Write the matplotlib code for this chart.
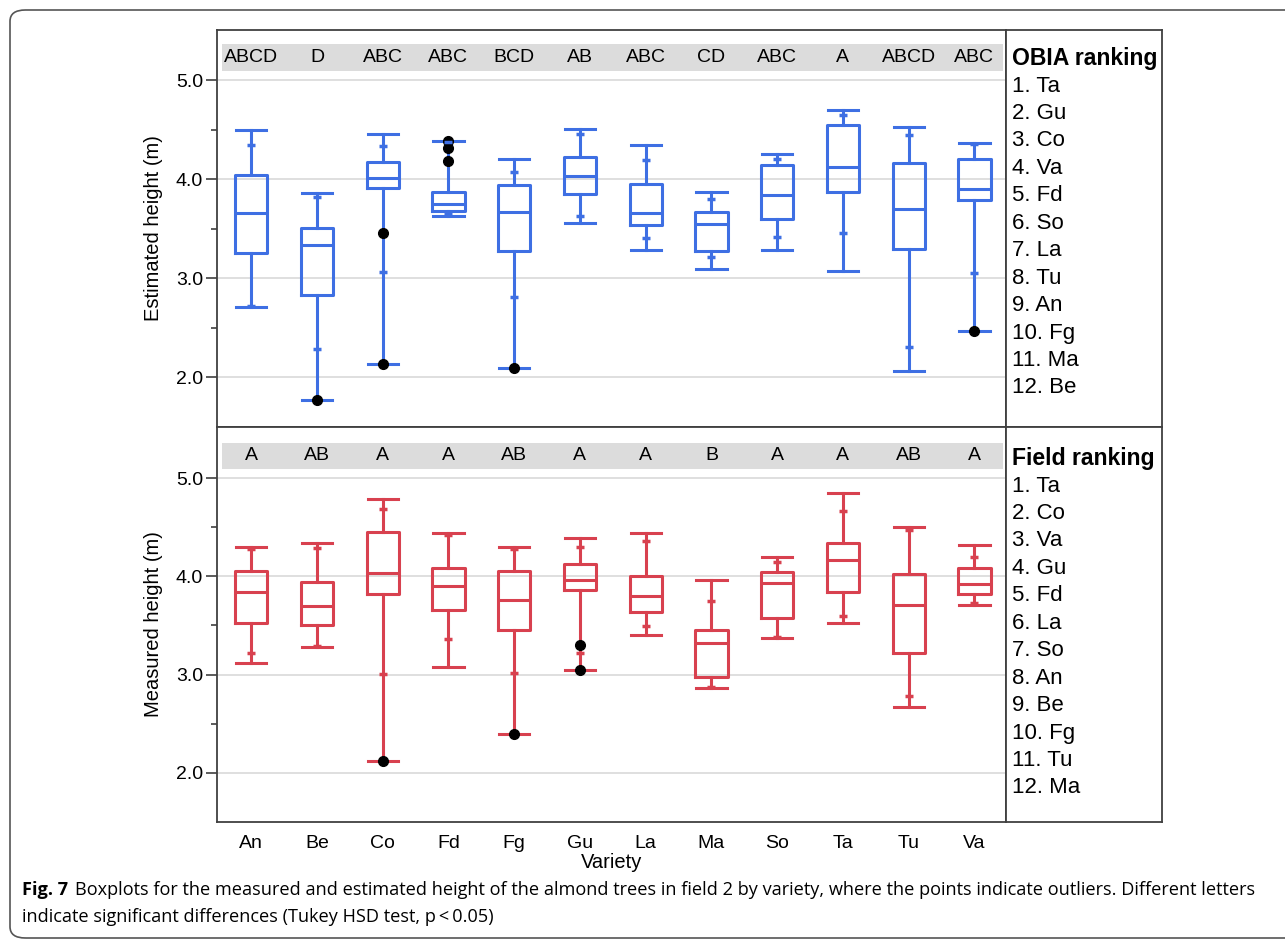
import matplotlib
matplotlib.use("Agg")
import matplotlib.pyplot as plt
from matplotlib.patches import FancyBboxPatch

# varieties on the x axis
varieties = ['An', 'Be', 'Co', 'Fd', 'Fg', 'Gu', 'La', 'Ma', 'So', 'Ta', 'Tu', 'Va']

# OBIA estimated height (m): whisker ends, 10/90 % ticks, quartiles, median
est_hi = [4.50, 3.86, 4.46, 4.39, 4.20, 4.51, 4.34, 3.87, 4.25, 4.70, 4.53, 4.37]
est_p90 = [4.34, 3.82, 4.33, 4.38, 4.07, 4.46, 4.19, 3.80, 4.20, 4.65, 4.45, 4.35]
est_q3 = [4.04, 3.51, 4.17, 3.87, 3.94, 4.22, 3.95, 3.67, 4.14, 4.55, 4.16, 4.20]
est_med = [3.66, 3.34, 4.01, 3.75, 3.67, 4.03, 3.66, 3.55, 3.84, 4.12, 3.70, 3.90]
est_q1 = [3.26, 2.83, 3.91, 3.68, 3.28, 3.85, 3.54, 3.28, 3.60, 3.87, 3.30, 3.79]
est_p10 = [2.72, 2.29, 3.06, 3.65, 2.81, 3.63, 3.41, 3.21, 3.42, 3.46, 2.31, 3.05]
est_lo = [2.71, 1.77, 2.14, 3.63, 2.10, 3.56, 3.29, 3.09, 3.29, 3.07, 2.06, 2.47]
est_out = [[], [1.77], [3.46, 2.14], [4.39, 4.31, 4.18], [2.10], [], [], [], [], [], [], [2.47]]
obia_letters = ['ABCD', 'D', 'ABC', 'ABC', 'BCD', 'AB', 'ABC', 'CD', 'ABC', 'A', 'ABCD', 'ABC']
obia_rank = ['Ta', 'Gu', 'Co', 'Va', 'Fd', 'So', 'La', 'Tu', 'An', 'Fg', 'Ma', 'Be']

# field measured height (m)
fld_hi = [4.30, 4.34, 4.79, 4.44, 4.30, 4.39, 4.44, 3.96, 4.20, 4.85, 4.50, 4.32]
fld_p90 = [4.28, 4.29, 4.69, 4.42, 4.28, 4.30, 4.36, 3.75, 4.15, 4.67, 4.47, 4.20]
fld_q3 = [4.05, 3.94, 4.45, 4.08, 4.05, 4.13, 4.00, 3.45, 4.04, 4.34, 4.02, 4.09]
fld_med = [3.84, 3.70, 4.03, 3.90, 3.76, 3.96, 3.80, 3.32, 3.93, 4.17, 3.71, 3.92]
fld_q1 = [3.53, 3.50, 3.82, 3.66, 3.45, 3.86, 3.64, 2.98, 3.58, 3.84, 3.22, 3.82]
fld_p10 = [3.22, 3.29, 3.01, 3.36, 3.02, 3.22, 3.49, 2.87, 3.38, 3.60, 2.78, 3.73]
fld_lo = [3.12, 3.28, 2.12, 3.08, 2.40, 3.05, 3.40, 2.86, 3.37, 3.53, 2.67, 3.71]
fld_out = [[], [], [2.12], [], [2.40], [3.30, 3.05], [], [], [], [], [], []]
field_letters = ['A', 'AB', 'A', 'A', 'AB', 'A', 'A', 'B', 'A', 'A', 'AB', 'A']
field_rank = ['Ta', 'Co', 'Va', 'Gu', 'Fd', 'La', 'So', 'An', 'Be', 'Fg', 'Tu', 'Ma']

W, H = 1285, 940
plt.rcParams['font.family'] = ['Liberation Sans', 'DejaVu Sans']
fig = plt.figure(figsize=(W / 100, H / 100), dpi=100)


def box(x0, y0, x1, y1):
    # pixel box (top-left origin) -> figure fraction rect
    return [x0 / W, 1 - y1 / H, (x1 - x0) / W, (y1 - y0) / H]


def draw_panel(ax, color, hi, p90, q3, med, q1, p10, lo, out, letters, ylim, ylabel):
    pos = list(range(len(varieties)))
    stats = []
    for i in pos:
        stats.append(dict(med=med[i], q1=q1[i], q3=q3[i], whislo=lo[i], whishi=hi[i], fliers=out[i]))
    lp = dict(color=color, linewidth=2.2)
    ax.bxp(stats, positions=pos, widths=0.49, capwidths=0.46,
           boxprops=lp, whiskerprops=lp, capprops=lp, medianprops=lp,
           flierprops=dict(marker='o', markerfacecolor='black', markeredgecolor='black', markersize=7),
           manage_ticks=False, zorder=3)
    # little 10% / 90% quantile marks on the whiskers
    ax.hlines(p90, [p - 0.06 for p in pos], [p + 0.06 for p in pos], color=color, lw=2.5, zorder=3)
    ax.hlines(p10, [p - 0.06 for p in pos], [p + 0.06 for p in pos], color=color, lw=2.5, zorder=3)
    ax.set_xlim(-0.52, 11.48)
    ax.set_ylim(*ylim)
    # grey band with the Tukey letters
    ax.axhspan(5.09, 5.36, xmin=0.006, xmax=0.996, color='#dcdcdc', lw=0, zorder=1)
    for i in pos:
        ax.text(i, 5.225, letters[i], ha='center', va='center', fontsize=14, zorder=4)
    ax.set_yticks([2, 3, 4, 5])
    ax.set_yticklabels(['2.0', '3.0', '4.0', '5.0'], fontsize=14)
    ax.set_yticks([2.5, 3.5, 4.5], minor=True)
    ax.tick_params(axis='y', which='major', length=8, width=1.2, color='#404040', pad=2)
    ax.tick_params(axis='y', which='minor', length=4, width=1.2, color='#404040')
    ax.yaxis.grid(True, which='major', color='#d9d9d9', lw=1.2, zorder=0)
    ax.set_axisbelow(True)
    ax.set_ylabel(ylabel, fontsize=14.5, labelpad=9)
    for s in ax.spines.values():
        s.set_color('#404040')
        s.set_linewidth(1.3)


ax1 = fig.add_axes(box(217, 30, 1006, 427))
draw_panel(ax1, '#3e6fe3', est_hi, est_p90, est_q3, est_med, est_q1, est_p10, est_lo, est_out,
           obia_letters, (1.5, 5.505), 'Estimated height (m)')
ax1.set_xticks([])

ax2 = fig.add_axes(box(217, 427, 1006, 822))
draw_panel(ax2, '#d8414f', fld_hi, fld_p90, fld_q3, fld_med, fld_q1, fld_p10, fld_lo, fld_out,
           field_letters, (1.5, 5.52), 'Measured height (m)')
ax2.set_xticks(range(len(varieties)))
ax2.set_xticklabels(varieties, fontsize=14)
ax2.tick_params(axis='x', length=0, pad=9)
ax2.set_xlabel('Variety', fontsize=14.5, labelpad=1)

# ranking boxes on the right
for (y0, y1, title, rank, t_y, l_y) in [(30, 427, 'OBIA ranking', obia_rank, 59, 86),
                                        (427, 822, 'Field ranking', field_rank, 459, 486)]:
    axr = fig.add_axes(box(1006, y0, 1162, y1))
    axr.set_xticks([])
    axr.set_yticks([])
    for s in axr.spines.values():
        s.set_color('#404040')
        s.set_linewidth(1.3)
    fig.text(1012 / W, 1 - t_y / H, title, fontsize=16.6, fontweight='bold', va='center', ha='left')
    for k, v in enumerate(rank):
        fig.text(1012 / W, 1 - (l_y + 27.45 * k) / H, '%d. %s' % (k + 1, v),
                 fontsize=16, va='center', ha='left')

# rounded frame round the whole figure
frame = FancyBboxPatch((10 / W, 1 - 938 / H), 1300 / W, 928 / H,
                       boxstyle='round,pad=0,rounding_size=0.012', transform=fig.transFigure,
                       fill=False, ec='#555555', lw=1.2)
fig.patches.append(frame)

# caption
cap_font = ['Open Sans', 'DejaVu Sans']
t = fig.text(22 / W, 1 - 890 / H, 'Fig. 7', fontsize=13.1, fontweight='bold', family=cap_font, va='center')
fig.canvas.draw()
bb = t.get_window_extent()
fig.text((bb.x1 + 7) / W, 1 - 890 / H,
         'Boxplots for the measured and estimated height of the almond trees in field 2 by variety, '
         'where the points indicate outliers. Different letters',
         fontsize=13.1, family=cap_font, va='center')
fig.text(22 / W, 1 - 917 / H, 'indicate significant differences (Tukey HSD test, p\u2009<\u20090.05)',
         fontsize=13.1, family=cap_font, va='center')

fig.savefig('out.png', dpi=100)
